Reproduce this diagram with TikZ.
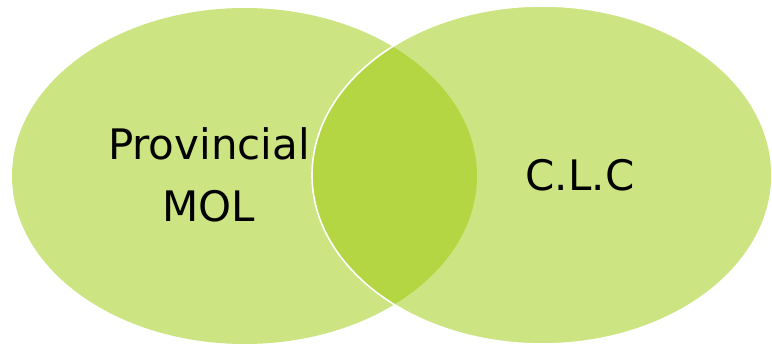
\documentclass[tikz,border=0pt]{standalone}
\usepackage{fontspec}
\setmainfont{DejaVu Sans}
\usetikzlibrary{positioning}
\definecolor{leaf}{RGB}{155,201,5}
\tikzset{
  every picture/.style={font=\fontsize{42}{62}\selectfont},
  set/.style={fill=leaf,fill opacity=0.5},
  rim/.style={draw=white,line width=1.6pt},
  label/.style={align=center,inner sep=0pt,text=black},
}

\begin{document}
\begin{tikzpicture}[x=1pt,y=1pt]
  \useasboundingbox (0,0) rectangle (772,349);
  % the two sets, overlap darker through the opacity
  \fill[set] (244.5,173) ellipse [x radius=232.5,y radius=168];
  \fill[set] (542,174) ellipse [x radius=230,y radius=169];
  \draw[rim] (542,174) ellipse [x radius=230,y radius=169];
  \node[label] (prov) at (209,174) {Provincial\\MOL};
  \node[label] (clc) at (580,174) {C.L.C};
\end{tikzpicture}
\end{document}
